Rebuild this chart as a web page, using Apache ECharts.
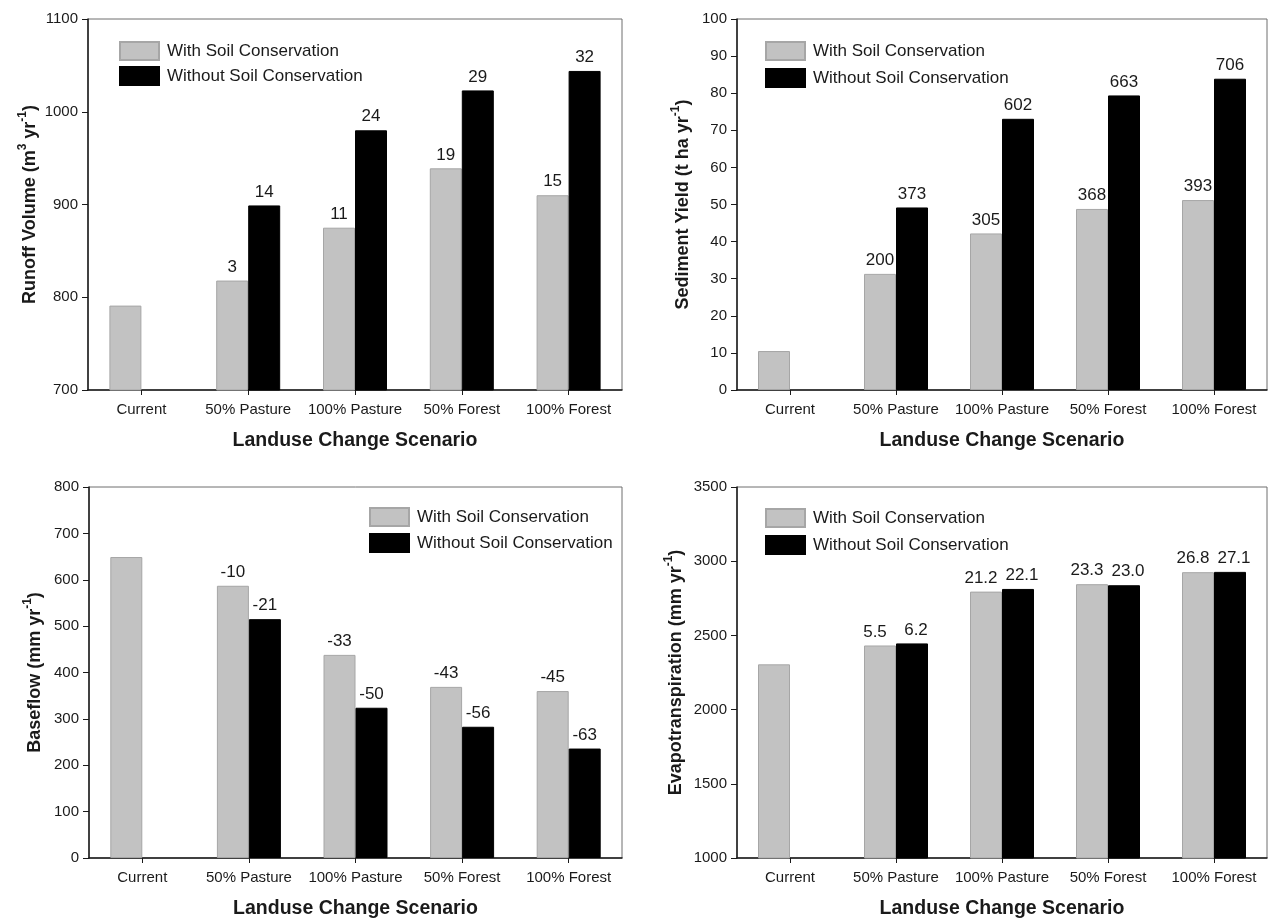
<!DOCTYPE html>
<html>
<head>
<meta charset="utf-8">
<title>Landuse change scenarios</title>
<script src="https://cdn.jsdelivr.net/npm/echarts@6/dist/echarts.min.js"></script>
<style>
  html, body { margin: 0; padding: 0; background: #ffffff; }
  #chart { width: 1268px; height: 922px; }
</style>
</head>
<body>
<div id="chart"></div>
<script>
// Scenario categories shared by all four panels
const categories = ['Current', '50% Pasture', '100% Pasture', '50% Forest', '100% Forest'];
const seriesNames = ['With Soil Conservation', 'Without Soil Conservation'];

// Runoff volume (m3 yr-1) and % change vs. current
const runoffWith = [791, 818, 875, 939, 910];
const runoffWithout = [null, 899, 980, 1023, 1044];
const runoffPctWith = ['', '3', '11', '19', '15'];
const runoffPctWithout = ['', '14', '24', '29', '32'];

// Sediment yield (t ha yr-1) and % change vs. current
const sedimentWith = [10.5, 31.3, 42.2, 48.8, 51.2];
const sedimentWithout = [null, 49.2, 73.1, 79.4, 83.9];
const sedimentPctWith = ['', '200', '305', '368', '393'];
const sedimentPctWithout = ['', '373', '602', '663', '706'];

// Baseflow (mm yr-1) and % change vs. current
const baseflowWith = [649, 587, 438, 369, 360];
const baseflowWithout = [null, 515, 324, 283, 236];
const baseflowPctWith = ['', '-10', '-33', '-43', '-45'];
const baseflowPctWithout = ['', '-21', '-50', '-56', '-63'];

// Evapotranspiration (mm yr-1) and % change vs. current
const etWith = [2305, 2432, 2795, 2845, 2926];
const etWithout = [null, 2446, 2813, 2838, 2928];
const etPctWith = ['', '5.5', '21.2', '23.3', '26.8'];
const etPctWithout = ['', '6.2', '22.1', '23.0', '27.1'];

// Y-axis scales per panel
const yRanges = [
  { min: 700, max: 1100, interval: 100 },
  { min: 0, max: 100, interval: 10 },
  { min: 0, max: 800, interval: 100 },
  { min: 1000, max: 3500, interval: 500 }
];

const FONT = '"Liberation Sans", Arial, Helvetica, sans-serif';
const INK = '#1a1a1a';
const GRAY_FILL = '#c2c2c2';
const GRAY_EDGE = '#a6a6a6';

const grids = [
  { left: 88, top: 19, width: 534, height: 371 },
  { left: 737, top: 19, width: 530, height: 371 },
  { left: 89, top: 487, width: 533, height: 371 },
  { left: 737, top: 487, width: 530, height: 371 }
].map(g => Object.assign({ show: true, borderColor: '#6e6e6e', borderWidth: 1, backgroundColor: 'transparent', containLabel: false }, g));

// Rotated axis title with superscript units
function richName(main, unit1, sup1, unit2, sup2) {
  let s = '{b|' + main + ' (' + unit1 + '}';
  if (sup1) s += '{s|' + sup1 + '}';
  s += '{b|' + unit2 + '}{s|' + sup2 + '}{b|)}';
  return s;
}
const richStyles = {
  b: { fontFamily: FONT, fontSize: 18, fontWeight: 'bold', color: INK, lineHeight: 22, verticalAlign: 'bottom' },
  s: { fontFamily: FONT, fontSize: 12, fontWeight: 'bold', color: INK, lineHeight: 12, verticalAlign: 'top' }
};
const yNames = [
  richName('Runoff Volume', 'm', '3', ' yr', '-1'),
  richName('Sediment Yield', 't ha yr', '', '', '-1'),
  richName('Baseflow', 'mm yr', '', '', '-1'),
  richName('Evapotranspiration', 'mm yr', '', '', '-1')
];
const yNameGaps = [49, 45, 45, 52];

const xAxes = grids.map((g, i) => ({
  type: 'category',
  gridIndex: i,
  data: categories,
  boundaryGap: true,
  name: 'Landuse Change Scenario',
  nameLocation: 'middle',
  nameGap: 41,
  nameTextStyle: { fontFamily: FONT, fontSize: 19.5, fontWeight: 'bold', color: INK },
  axisLine: { show: true, lineStyle: { color: INK, width: 1.5 } },
  axisTick: { show: true, alignWithLabel: true, length: 5, lineStyle: { color: INK, width: 1 } },
  axisLabel: { fontFamily: FONT, fontSize: 15, color: INK, margin: 12, interval: 0 },
  splitLine: { show: false }
}));

const yAxes = grids.map((g, i) => ({
  type: 'value',
  gridIndex: i,
  min: yRanges[i].min,
  max: yRanges[i].max,
  interval: yRanges[i].interval,
  name: yNames[i],
  nameLocation: 'middle',
  nameRotate: 90,
  nameGap: yNameGaps[i],
  nameTextStyle: { rich: richStyles },
  axisLine: { show: true, lineStyle: { color: INK, width: 1.5 } },
  axisTick: { show: true, length: 6, lineStyle: { color: INK, width: 1 } },
  axisLabel: { fontFamily: FONT, fontSize: 15, color: INK, margin: 10, formatter: v => String(v) },
  splitLine: { show: false }
}));

function barSeries(name, idx, values, pctLabels, isWith, labelShift) {
  return {
    name: name,
    type: 'bar',
    xAxisIndex: idx,
    yAxisIndex: idx,
    data: values,
    barWidth: 32,
    barGap: '0%',
    itemStyle: isWith
      ? { color: GRAY_FILL, borderColor: GRAY_EDGE, borderWidth: 1 }
      : { color: '#000000', borderColor: '#000000', borderWidth: 1 },
    label: {
      show: true,
      position: 'top',
      distance: 5,
      offset: [labelShift || 0, 0],
      fontFamily: FONT,
      fontSize: 17,
      color: INK,
      formatter: p => pctLabels[p.dataIndex]
    },
    emphasis: { disabled: true },
    animation: false
  };
}

const panels = [
  [runoffWith, runoffWithout, runoffPctWith, runoffPctWithout],
  [sedimentWith, sedimentWithout, sedimentPctWith, sedimentPctWithout],
  [baseflowWith, baseflowWithout, baseflowPctWith, baseflowPctWithout],
  [etWith, etWithout, etPctWith, etPctWithout]
];
// Side-by-side labels in the evapotranspiration panel are nudged apart
const labelShifts = [[0, 0], [0, 0], [0, 0], [-5, 4]];

const series = [];
panels.forEach((p, i) => {
  series.push(barSeries(seriesNames[0], i, p[0], p[2], true, labelShifts[i][0]));
  series.push(barSeries(seriesNames[1], i, p[1], p[3], false, labelShifts[i][1]));
});

const legendBase = {
  data: seriesNames,
  orient: 'vertical',
  icon: 'rect',
  itemWidth: 39,
  itemHeight: 18,
  padding: 0,
  selectedMode: false,
  textStyle: { fontFamily: FONT, fontSize: 17, color: INK, padding: [0, 0, 0, 3] }
};
const legends = [
  Object.assign({}, legendBase, { left: 119, top: 41, itemGap: 5 }),
  Object.assign({}, legendBase, { left: 765, top: 41, itemGap: 7 }),
  Object.assign({}, legendBase, { left: 369, top: 507, itemGap: 6 }),
  Object.assign({}, legendBase, { left: 765, top: 508, itemGap: 7 })
];

const chart = echarts.init(document.getElementById('chart'), null, { renderer: 'canvas' });
chart.setOption({
  backgroundColor: '#ffffff',
  animation: false,
  grid: grids,
  xAxis: xAxes,
  yAxis: yAxes,
  legend: legends,
  series: series
});
</script>
</body>
</html>
